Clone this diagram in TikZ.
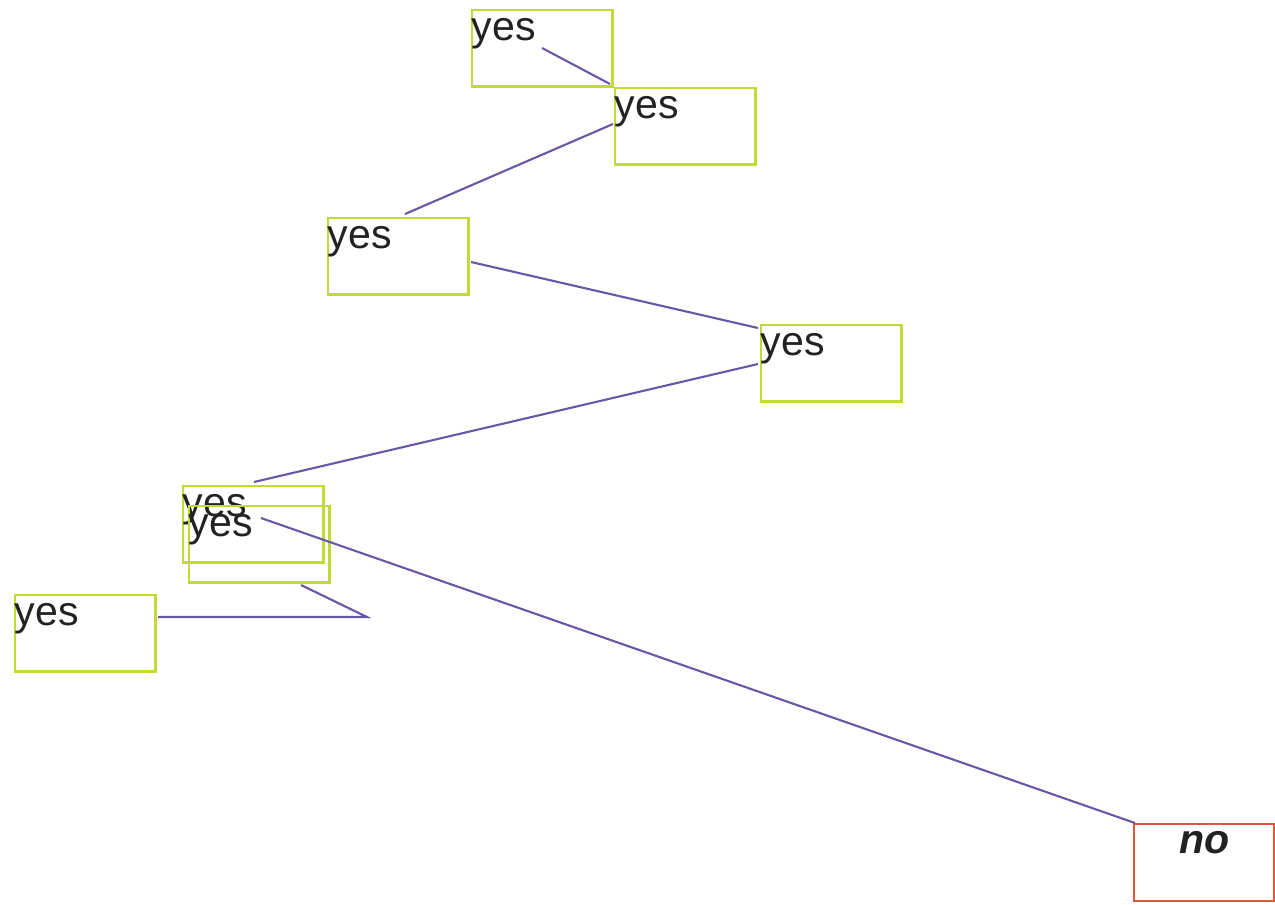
\documentclass[tikz,border=0pt]{standalone}
\usepackage{fontspec}
\setmainfont{Liberation Sans}
\definecolor{ygreen}{RGB}{195,217,52}
\definecolor{nored}{RGB}{222,88,60}
\definecolor{lpurple}{RGB}{106,86,166}
\definecolor{txt}{RGB}{34,34,34}
\begin{document}
\begin{tikzpicture}[x=0.02cm,y=-0.02cm,
  yesbox/.style={draw=ygreen, line width=1.5pt, anchor=north west, inner sep=0pt,
    text width=2.82cm, align=left, text height=0.62cm, text depth=0.92cm,
    font=\fontsize{23.4pt}{28pt}\selectfont, text=txt},
  nobox/.style={yesbox, draw=nored, align=center, text height=0.60cm, text depth=0.94cm,
    font=\fontsize{23.4pt}{28pt}\selectfont\bfseries\itshape},
  conn/.style={draw=lpurple, line width=1.2pt}]
\useasboundingbox (0,0) rectangle (1275,904);
\node[yesbox] (b1) at (470.5,8.5) {yes};
\node[yesbox] (b2) at (613.5,86.5) {yes};
\node[yesbox] (b3) at (326.5,216.5) {yes};
\node[yesbox] (b4) at (759.5,323.5) {yes};
\node[yesbox] (b5) at (181.5,484.5) {yes};
\node[yesbox] (b6) at (187.5,504.5) {yes};
\node[yesbox] (b7) at (13.5,593.5) {yes};
\node[nobox] (b8) at (1132.5,822.5) {no};
\coordinate (c1a) at (542,48);
\coordinate (c1b) at (610,84);
\coordinate (c2a) at (613,124);
\coordinate (c2b) at (405,214);
\coordinate (c3a) at (471,262);
\coordinate (c3b) at (758,328);
\coordinate (c4a) at (758,364);
\coordinate (c4b) at (254,482);
\coordinate (c5a) at (261,518);
\coordinate (c5b) at (1135,823);
\coordinate (c6a) at (301,585);
\coordinate (c6m) at (367,617);
\coordinate (c6b) at (158,617);
\draw[conn] (c1a) -- (c1b);
\draw[conn] (c2a) -- (c2b);
\draw[conn] (c3a) -- (c3b);
\draw[conn] (c4a) -- (c4b);
\draw[conn] (c5a) -- (c5b);
\draw[conn] (c6a) -- (c6m) -- (c6b);
\end{tikzpicture}
\end{document}
